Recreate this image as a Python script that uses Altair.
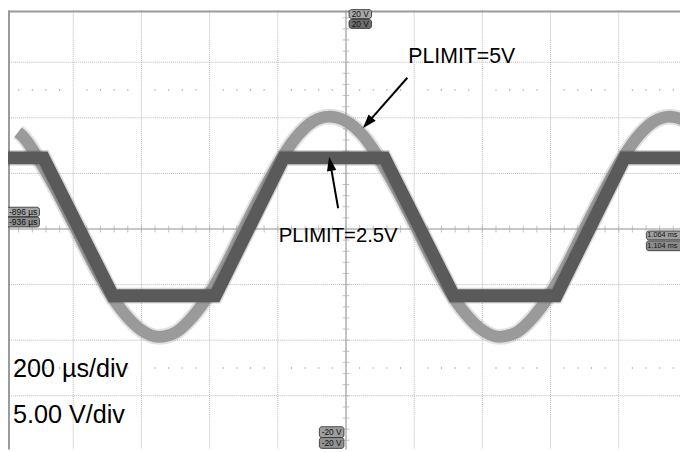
import altair as alt
import pandas as pd

# ---------------- data (time in µs, voltage in V) ----------------
# PLIMIT=5V trace (light gray)
light_t = [-962, -950, -900, -850, -800, -750, -700, -650, -600, -550, -500,
           -450, -400, -350, -300, -250, -200, -150, -100, -50, 0, 50, 100,
           150, 200, 250, 300, 350, 400, 450, 500, 550, 600, 650, 700, 750,
           800, 850, 900, 950, 1000]
light_v = [8.7, 8.4, 6.2, 3.5, 0.5, -2.6, -5.4, -7.6, -9.1, -9.7, -9.3,
           -7.9, -5.8, -3.1, 0.0, 3.0, 5.8, 8.1, 9.6, 10.1, 9.7, 8.4, 6.2,
           3.5, 0.5, -2.6, -5.4, -7.6, -9.1, -9.7, -9.3, -7.9, -5.8, -3.1,
           0.0, 3.0, 5.8, 8.1, 9.6, 10.1, 9.7]

# PLIMIT=2.5V trace (dark gray, clipped)
dark_t = [-1000, -887, -684, -383, -183, 113, 316, 617, 817, 1000]
dark_v = [6.4, 6.4, -6.0, -6.0, 6.4, 6.4, -6.0, -6.0, 6.4, 6.4]

# graticule
grid_t = [-800, -600, -400, -200, 200, 400, 600, 800]
grid_v = [-15, -10, -5, 5, 10, 15]
tick_t = [i * 40 for i in range(-24, 25)]
tick_v = [i for i in range(-19, 20)]
dot_rows_v = [12.5, -12.5]

# readout badges
badge_label = ["-896 µs", "-936 µs", "20 V", "20 V", "-20 V", "-20 V",
               "1.064 ms", "1.104 ms"]
badge_t1 = [-995, -995, 9, 9, -78, -78, 881, 881]
badge_t2 = [-899, -899, 75, 75, -6, -6, 1015, 1015]
badge_v1 = [1.96, 1.07, 19.73, 18.84, -17.78, -18.76, -0.18, -1.07]
badge_v2 = [1.11, 0.18, 18.93, 18.04, -18.76, -19.73, -0.98, -1.95]
badge_fill = ["#a2a2a2", "#8e8e8e", "#a8a8a8", "#6e6e6e", "#9e9e9e",
              "#929292", "#a0a0a0", "#8c8c8c"]

# annotations
notes = ["PLIMIT=5V", "PLIMIT=2.5V", "200 µs/div", "5.00 V/div"]
notes_t = [183, -197, -977, -977]
notes_v = [14.93, -1.13, -13.29, -17.42]
notes_size = [21.5, 20.5, 25.5, 25.5]

arrow_t1 = [180, -23]
arrow_v1 = [13.6, 1.87]
arrow_t2 = [66, -45]
arrow_v2 = [9.64, 5.73]
arrow_angle = [221, 350]

# ---------------- scales ----------------
W, H = 680, 444
xs = alt.Scale(domain=[-991.3, 979.7], nice=False, zero=False)
ys = alt.Scale(domain=[-19.82, 19.64], nice=False, zero=False)
X = lambda f: alt.X(f, type="quantitative", scale=xs, axis=None)
Y = lambda f: alt.Y(f, type="quantitative", scale=ys, axis=None)
FONT = "Liberation Sans"

light = pd.DataFrame({"t": light_t, "v": light_v})
dark = pd.DataFrame({"t": dark_t, "v": dark_v})

vgrid = alt.Chart(pd.DataFrame({"t": grid_t})).mark_rule(
    color="#b8b8b8", strokeDash=[1, 1], strokeWidth=1).encode(x=X("t"))
hgrid = alt.Chart(pd.DataFrame({"v": grid_v})).mark_rule(
    color="#b8b8b8", strokeDash=[1, 1], strokeWidth=1).encode(y=Y("v"))
center_h = alt.Chart(pd.DataFrame({"v": [0]})).mark_rule(
    color="#b4b4b4", strokeWidth=1.6).encode(y=Y("v"))
center_v = alt.Chart(pd.DataFrame({"t": [0]})).mark_rule(
    color="#b4b4b4", strokeWidth=1.6).encode(x=X("t"))
ticks_h = alt.Chart(pd.DataFrame({"t": tick_t, "v": [0] * len(tick_t)})).mark_tick(
    orient="vertical", size=7, thickness=1, color="#aaaaaa").encode(x=X("t"), y=Y("v"))
ticks_v = alt.Chart(pd.DataFrame({"v": tick_v, "t": [0] * len(tick_v)})).mark_tick(
    orient="horizontal", size=7, thickness=1, color="#aaaaaa").encode(x=X("t"), y=Y("v"))

dots = pd.DataFrame([{"t": t, "v": v} for v in dot_rows_v for t in tick_t
                     if t % 200 != 0])
dot_layer = alt.Chart(dots).mark_square(size=1.5, color="#8a8a8a", opacity=1).encode(
    x=X("t"), y=Y("v"))

frame_l = alt.Chart(pd.DataFrame({"a": [0]})).mark_rule(color="#9a9a9a", strokeWidth=2).encode(
    x=alt.value(1), y=alt.value(0), y2=alt.value(H))
frame_t = alt.Chart(pd.DataFrame({"a": [0]})).mark_rule(color="#9a9a9a", strokeWidth=2).encode(
    y=alt.value(1), x=alt.value(0), x2=alt.value(W))

light_fringe = alt.Chart(light).mark_line(
    color="#9c9c9c", strokeWidth=16, opacity=0.3, interpolate="monotone",
    strokeCap="butt", clip=True).encode(x=X("t"), y=Y("v"))
light_line = alt.Chart(light).mark_line(
    color="#9a9a9a", strokeWidth=12, interpolate="monotone",
    strokeCap="butt", clip=True).encode(x=X("t"), y=Y("v"))
dark_fringe = alt.Chart(dark).mark_line(
    color="#5a5a5a", strokeWidth=16, opacity=0.25, strokeJoin="miter",
    clip=True).encode(x=X("t"), y=Y("v"))
dark_line = alt.Chart(dark).mark_line(
    color="#5a5a5a", strokeWidth=13, strokeJoin="miter",
    clip=True).encode(x=X("t"), y=Y("v"))

badges = pd.DataFrame({"label": badge_label, "t1": badge_t1, "t2": badge_t2,
                       "v1": badge_v1, "v2": badge_v2, "fill": badge_fill})
badges["tm"] = (badges["t1"] + badges["t2"]) / 2
badges["vm"] = (badges["v1"] + badges["v2"]) / 2
badges["tl"] = badges["t1"] + 3
badge_rect = alt.Chart(badges).mark_rect(
    cornerRadius=2.5, stroke="#2a2a2a", strokeWidth=0.8).encode(
    x=X("t1"), x2="t2", y=Y("v1"), y2="v2",
    fill=alt.Fill("fill:N", scale=None))
badge_text_c = alt.Chart(badges[badges["t1"] < 800]).mark_text(
    font=FONT, fontSize=8.5, color="#111111", baseline="middle", align="center").encode(
    x=X("tm"), y=Y("vm"), text="label:N")
badge_text_l = alt.Chart(badges[badges["t1"] >= 800]).mark_text(
    font=FONT, fontSize=7.4, color="#111111", baseline="middle", align="left").encode(
    x=X("tl"), y=Y("vm"), text="label:N")

notes_df = pd.DataFrame({"label": notes, "t": notes_t, "v": notes_v, "s": notes_size})
note_layers = [
    alt.Chart(notes_df.iloc[[i]]).mark_text(
        font=FONT, fontSize=notes_size[i], color="#000000", align="left",
        baseline="alphabetic").encode(x=X("t"), y=Y("v"), text="label:N")
    for i in range(len(notes))
]

arrows = pd.DataFrame({"t1": arrow_t1, "v1": arrow_v1, "t2": arrow_t2,
                       "v2": arrow_v2, "ang": arrow_angle})
arrow_lines = alt.Chart(arrows).mark_rule(color="#000000", strokeWidth=2).encode(
    x=X("t1"), y=Y("v1"), x2="t2", y2="v2")
arrow_heads = alt.Chart(arrows).mark_point(
    shape="M0,-1L0.55,0.65L-0.55,0.65Z", size=300, filled=True, color="#000000",
    opacity=1).encode(x=X("t2"), y=Y("v2"),
                      angle=alt.Angle("ang:Q", scale=None))

chart = alt.layer(
    vgrid, hgrid, dot_layer, center_h, center_v, ticks_h, ticks_v,
    frame_l, frame_t,
    light_fringe, light_line, dark_fringe, dark_line,
    badge_rect, badge_text_c, badge_text_l,
    *note_layers, arrow_lines, arrow_heads,
).properties(
    width=W, height=H, padding=0, autosize=alt.AutoSizeParams(type="none"),
    background="#ffffff",
).configure_view(stroke=None)

chart.save("out.html", embed_options={"renderer": "svg", "actions": False})
